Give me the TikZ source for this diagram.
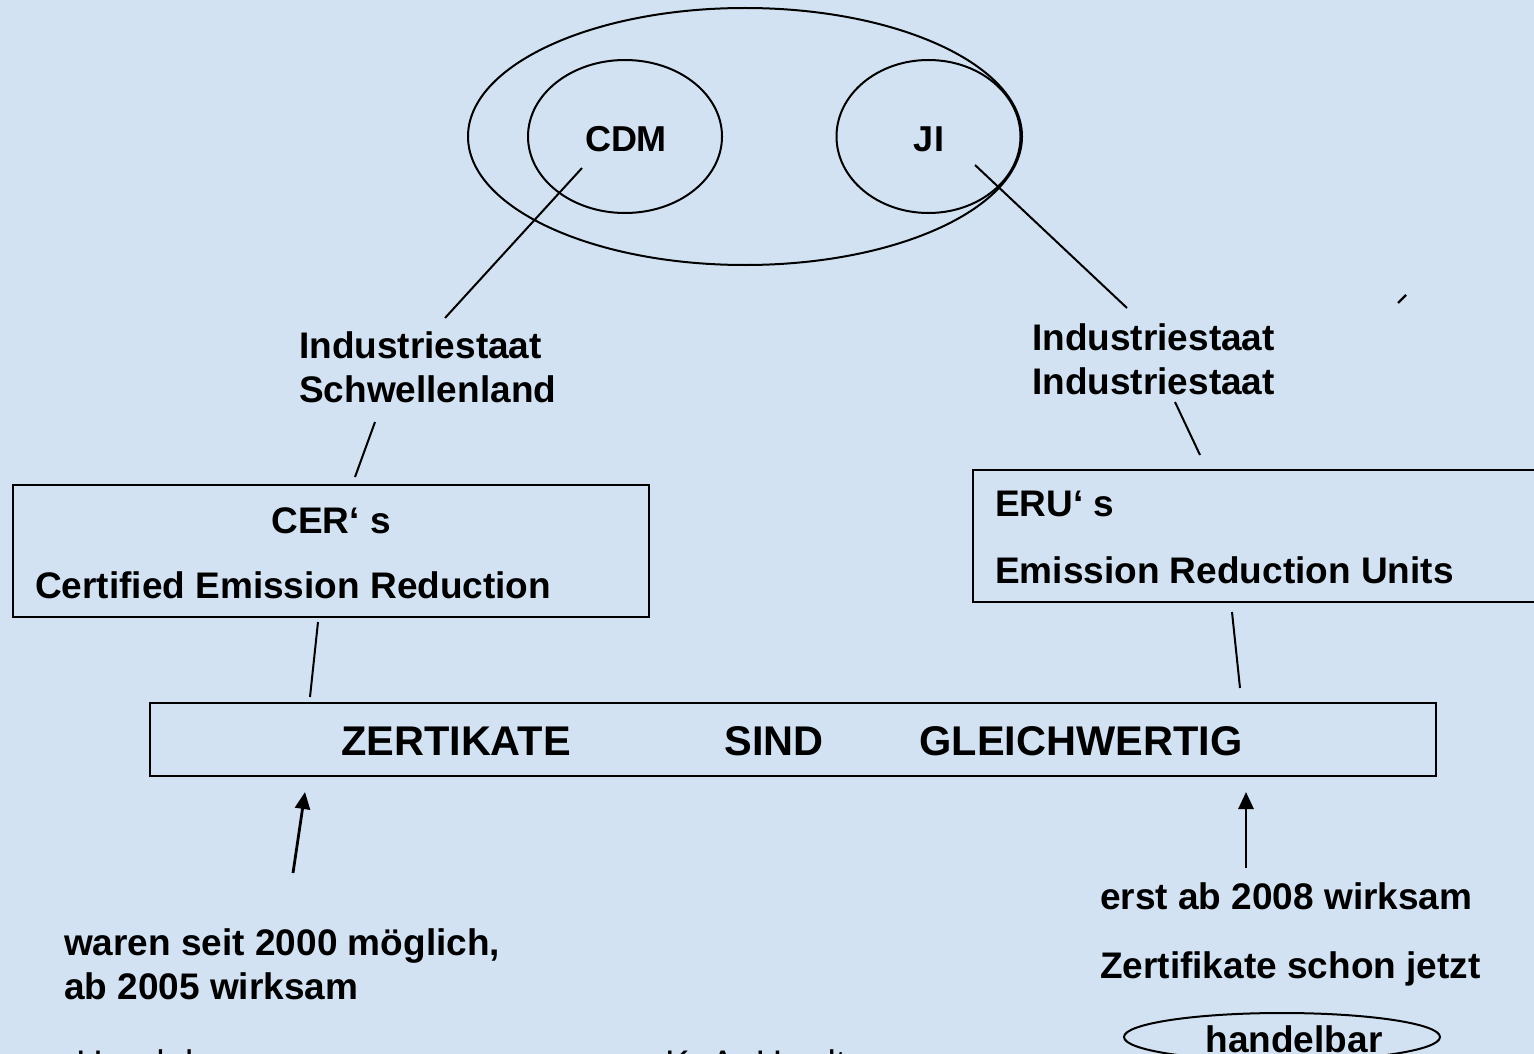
\documentclass[tikz,border=0pt]{standalone}
\usepackage{fontspec}
\setmainfont{Liberation Sans}
\usetikzlibrary{shapes.geometric,arrows.meta}
\definecolor{bgblue}{RGB}{211,226,243}
\tikzset{
  txt/.style={font=\fontsize{37}{44}\selectfont\bfseries, inner sep=0pt, anchor=base west},
  ctxt/.style={txt, anchor=base},
  big/.style={font=\fontsize{41.5}{48}\selectfont\bfseries, inner sep=0pt, anchor=base},
  foot/.style={font=\fontsize{37}{44}\selectfont, inner sep=0pt, anchor=base west},
  oval/.style={ellipse, draw, line width=2pt, inner sep=0pt},
  frame/.style={draw, line width=2.2pt, inner sep=0pt},
  link/.style={line width=2pt},
  uparrow/.style={line width=2.8pt, -{Triangle[width=15pt,length=17pt]}}
}
\begin{document}
\begin{tikzpicture}[x=1pt, y=-1pt]
  % page and background
  \useasboundingbox (0,0) rectangle (1534,1054);
  \fill[bgblue] (0,0) rectangle (1534,1054);

  % mechanisms
  \node[oval, minimum width=554pt, minimum height=257pt] (kyoto) at (745,136.5) {};
  \node[oval, minimum width=194pt, minimum height=153pt] (cdmring) at (625,136.5) {};
  \node[oval, minimum width=184pt, minimum height=153pt] (jiring) at (928.5,136.5) {};
  \node[font=\fontsize{36}{40}\selectfont\bfseries, inner sep=0pt, anchor=base] (cdm) at (626,151) {CDM};
  \node[font=\fontsize{36}{40}\selectfont\bfseries, inner sep=0pt, anchor=base] (ji) at (929,151) {JI};

  % parties
  \node[txt] (lpartyA) at (299,358) {Industriestaat};
  \node[txt] (lpartyB) at (299,402) {Schwellenland};
  \node[txt] (rpartyA) at (1032,350) {Industriestaat};
  \node[txt] (rpartyB) at (1032,394) {Industriestaat};

  % certificate boxes
  \node[frame, minimum width=636pt, minimum height=132pt] (cerbox) at (331,551) {};
  \node[ctxt] (cer) at (331,533) {CER‘ s};
  \node[txt] (cerlong) at (35,598) {Certified Emission Reduction};
  \node[frame, minimum width=563pt, minimum height=132pt] (erubox) at (1254.5,536) {};
  \node[txt] (eru) at (995,516) {ERU‘ s};
  \node[txt] (erulong) at (995,583) {Emission Reduction Units};

  % equivalence bar
  \node[frame, minimum width=1286pt, minimum height=73pt] (bar) at (793,739.5) {};
  \node[big] (w1) at (456,755) {ZERTIKATE};
  \node[big] (w2) at (774,755) {SIND};
  \node[big] (w3) at (1081,755) {GLEICHWERTIG};

  % notes below
  \node[txt] (cdmnoteA) at (64,955) {waren seit 2000 möglich,};
  \node[txt] (cdmnoteB) at (64,999) {ab 2005 wirksam};
  \node[txt] (jinoteA) at (1100,909) {erst ab 2008 wirksam};
  \node[txt] (jinoteB) at (1100,978) {Zertifikate schon jetzt};
  \node[oval, minimum width=316pt, minimum height=48pt] (tradering) at (1282,1037) {};
  \node[ctxt] (trade) at (1294,1052) {handelbar};

  % footer line, running off the bottom edge
  \node[foot] (footL) at (76,1076) {Handel};
  \node[foot] (footR) at (665,1076) {K. A. Hardt};

  % connector end points
  \coordinate (c1) at (582,168);   \coordinate (c2) at (445,318);
  \coordinate (j1) at (975,165);   \coordinate (j2) at (1127,308);
  \coordinate (c3) at (375,422);   \coordinate (c4) at (355,477);
  \coordinate (j3) at (1175,402);  \coordinate (j4) at (1200,455);
  \coordinate (c5) at (318,622);   \coordinate (c6) at (310,697);
  \coordinate (j5) at (1232,612);  \coordinate (j6) at (1240,688);
  \coordinate (a1) at (293,873);   \coordinate (a2) at (305,792);
  \coordinate (b1) at (1246,868);  \coordinate (b2) at (1246,792);
  \coordinate (t1) at (1398,303);  \coordinate (t2) at (1406,295);

  % connectors
  \draw[link] (c1) -- (c2);
  \draw[link] (j1) -- (j2);
  \draw[link] (c3) -- (c4);
  \draw[link] (j3) -- (j4);
  \draw[link] (c5) -- (c6);
  \draw[link] (j5) -- (j6);
  \draw[link, line width=2.4pt] (t1) -- (t2);
  \draw[uparrow] (a1) -- (a2);
  \draw[uparrow] (b1) -- (b2);
\end{tikzpicture}
\end{document}
